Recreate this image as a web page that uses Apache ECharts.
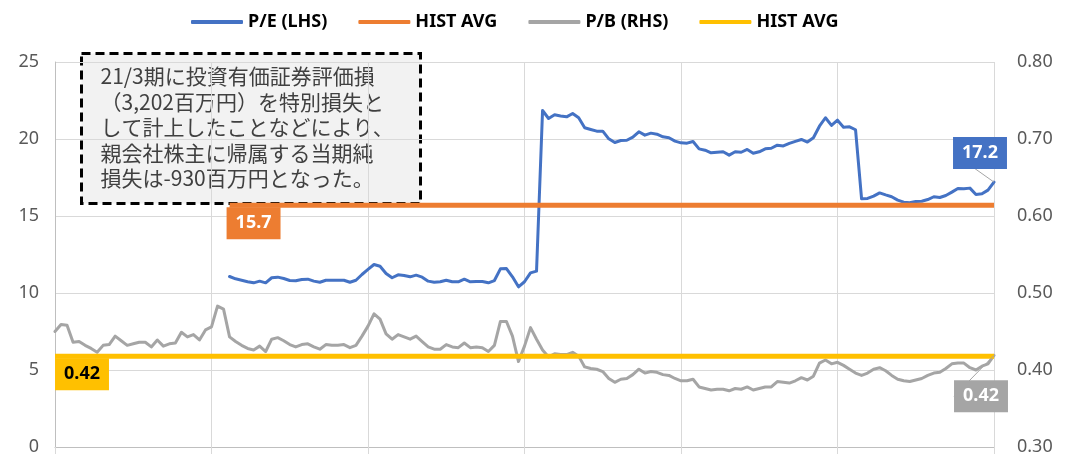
<!DOCTYPE html>
<html>
<head>
<meta charset="utf-8">
<script src="https://cdn.jsdelivr.net/npm/echarts@6/dist/echarts.min.js"></script>
<style>
  html, body { margin: 0; padding: 0; background: #fff; }
  #chart { width: 1069px; height: 466px; }
</style>
</head>
<body>
<div id="chart"></div>
<script>
// P/B (右軸) 隔週, 157点
var pbValues = [
  0.450, 0.459, 0.458, 0.436, 0.437, 0.432, 0.428, 0.423, 0.432, 0.433,
  0.444, 0.438, 0.432, 0.434, 0.436, 0.436, 0.430, 0.439, 0.431, 0.434,
  0.435, 0.449, 0.443, 0.446, 0.439, 0.452, 0.456, 0.483, 0.479, 0.443,
  0.437, 0.432, 0.428, 0.426, 0.431, 0.424, 0.440, 0.442, 0.438, 0.433,
  0.430, 0.433, 0.434, 0.430, 0.427, 0.433, 0.432, 0.432, 0.433, 0.429,
  0.432, 0.444, 0.457, 0.473, 0.466, 0.447, 0.440, 0.446, 0.443, 0.440,
  0.444, 0.437, 0.430, 0.427, 0.427, 0.433, 0.430, 0.429, 0.435, 0.429,
  0.430, 0.429, 0.424, 0.432, 0.463, 0.463, 0.444, 0.411, 0.431, 0.455,
  0.440, 0.426, 0.417, 0.421, 0.420, 0.420, 0.423, 0.418, 0.404, 0.402,
  0.401, 0.398, 0.389, 0.384, 0.388, 0.389, 0.394, 0.401, 0.396, 0.398,
  0.397, 0.394, 0.393, 0.389, 0.386, 0.386, 0.388, 0.378, 0.376, 0.374,
  0.375, 0.375, 0.373, 0.376, 0.375, 0.378, 0.374, 0.376, 0.378, 0.378,
  0.385, 0.384, 0.383, 0.386, 0.390, 0.387, 0.392, 0.409, 0.413, 0.408,
  0.410, 0.406, 0.401, 0.396, 0.393, 0.396, 0.401, 0.403, 0.399, 0.393,
  0.388, 0.386, 0.385, 0.387, 0.389, 0.393, 0.396, 0.397, 0.402, 0.408,
  0.409, 0.409, 0.403, 0.400, 0.405, 0.408, 0.419
];

// P/E (左軸) 先頭29点はデータなし
var peValues = [
  null, null, null, null, null, null, null, null, null, null,
  null, null, null, null, null, null, null, null, null, null,
  null, null, null, null, null, null, null, null, null, 11.07,
  10.92, 10.83, 10.73, 10.66, 10.77, 10.66, 10.99, 11.03, 10.94, 10.81,
  10.79, 10.88, 10.90, 10.77, 10.70, 10.83, 10.83, 10.83, 10.83, 10.70,
  10.83, 11.20, 11.53, 11.85, 11.74, 11.27, 10.99, 11.18, 11.14, 11.05,
  11.16, 11.03, 10.77, 10.70, 10.73, 10.83, 10.73, 10.73, 10.90, 10.73,
  10.75, 10.75, 10.66, 10.81, 11.57, 11.59, 11.05, 10.40, 10.73, 11.31,
  11.42, 21.85, 21.33, 21.57, 21.50, 21.44, 21.66, 21.38, 20.73, 20.62,
  20.51, 20.51, 20.01, 19.77, 19.90, 19.92, 20.12, 20.47, 20.25, 20.38,
  20.31, 20.14, 20.08, 19.86, 19.75, 19.73, 19.84, 19.36, 19.27, 19.10,
  19.14, 19.17, 18.95, 19.17, 19.14, 19.32, 19.08, 19.17, 19.36, 19.40,
  19.60, 19.55, 19.72, 19.85, 19.97, 19.80, 20.08, 20.83, 21.38, 20.88,
  21.22, 20.77, 20.79, 20.60, 16.12, 16.14, 16.29, 16.50, 16.37, 16.25,
  16.03, 15.90, 15.86, 15.94, 15.96, 16.07, 16.25, 16.20, 16.33, 16.55,
  16.79, 16.77, 16.81, 16.40, 16.44, 16.68, 17.2
];

var peAvg = 15.7;   // HIST AVG (P/E)
var pbAvg = 0.418;  // HIST AVG (P/B)

var leftTicks = { min: 0, max: 25, interval: 5 };
var rightTicks = { min: 0.3, max: 0.8, interval: 0.1 };
var perYear = 26;   // 縦グリッド間の点数

var noteLines = [
  '21/3期に投資有価証券評価損',
  '（3,202百万円）を特別損失と',
  'して計上したことなどにより、',
  '親会社株主に帰属する当期純',
  '損失は-930百万円となった。'
];

// カテゴリ (ラベルは非表示)
var categories = [];
for (var i = 0; i < pbValues.length; i++) categories.push(String(i + 1));

var lastIdx = pbValues.length - 1;
var firstPe = 0;
while (peValues[firstPe] == null) firstPe++;

var FONT = '"Noto Sans", sans-serif';

function boxLabel(bg, color, fmt) {
  return {
    show: true,
    formatter: fmt,
    backgroundColor: bg,
    color: color,
    fontFamily: FONT,
    fontWeight: 'bold',
    fontSize: 18,
    lineHeight: 20,
    padding: [6, 9]
  };
}

// P/E データ (最終点にラベル)
var peData = peValues.map(function (v, idx) {
  if (idx === lastIdx) {
    return {
      value: v,
      label: Object.assign(boxLabel('#4472C4', '#fff', function (p) { return p.value.toFixed(1); }), { position: 'top' }),
      labelLine: { show: true, lineStyle: { color: '#A5A5A5', width: 1 } }
    };
  }
  return v;
});

// P/B データ (最終点にラベル)
var pbData = pbValues.map(function (v, idx) {
  if (idx === lastIdx) {
    return {
      value: v,
      label: Object.assign(boxLabel('#A5A5A5', '#fff', function (p) { return p.value.toFixed(2); }), { position: 'bottom' }),
      labelLine: { show: true, lineStyle: { color: '#A5A5A5', width: 1 } }
    };
  }
  return v;
});

// 平均線
var peAvgData = peValues.map(function (v, idx) {
  if (v == null) return null;
  if (idx === firstPe) {
    return {
      value: peAvg,
      label: Object.assign(boxLabel('#ED7D31', '#fff', function (p) { return p.value.toFixed(1); }),
        { position: 'bottom', distance: 2, offset: [24, 0] })
    };
  }
  return peAvg;
});
var pbAvgData = pbValues.map(function (v, idx) {
  if (idx === 0) {
    return {
      value: pbAvg,
      label: Object.assign(boxLabel('#FFC000', '#000', function (p) { return p.value.toFixed(2); }),
        { position: 'bottom', distance: 2, offset: [27, 0] })
    };
  }
  return pbAvg;
});

function everyYear(idx) { return idx % perYear === 0; }

var chart = echarts.init(document.getElementById('chart'), null, { renderer: 'canvas' });

var lineBase = {
  type: 'line',
  symbol: 'circle',
  symbolSize: 0,
  showSymbol: true,
  showAllSymbol: true,
  connectNulls: false,
  silent: true,
  animation: false
};

var option = {
  animation: false,
  textStyle: { fontFamily: FONT },
  legend: {
    top: 8,
    left: 186,
    itemWidth: 52,
    itemHeight: 4,
    itemGap: 31,
    icon: 'roundRect',
    textStyle: { fontFamily: FONT, fontWeight: 'bold', fontSize: 18, color: '#000' },
    formatter: function (name) { return name.replace(/\s*#\d$/, ''); },
    data: ['P/E (LHS)', 'HIST AVG #1', 'P/B (RHS)', 'HIST AVG #2']
  },
  grid: { left: 55, right: 75, top: 62, bottom: 19 },
  xAxis: {
    type: 'category',
    data: categories,
    boundaryGap: false,
    axisLabel: { show: false },
    axisLine: { lineStyle: { color: '#BFBFBF', width: 1 } },
    axisTick: { show: true, interval: everyYear, length: 7, lineStyle: { color: '#D9D9D9' } },
    splitLine: { show: true, interval: everyYear, lineStyle: { color: '#D9D9D9', width: 1 } }
  },
  yAxis: [
    {
      type: 'value',
      min: leftTicks.min, max: leftTicks.max, interval: leftTicks.interval,
      axisLine: { show: true, lineStyle: { color: '#BFBFBF' } },
      axisTick: { show: false },
      axisLabel: { color: '#595959', fontSize: 18, fontFamily: FONT, margin: 16 },
      splitLine: { lineStyle: { color: '#D9D9D9', width: 1 } }
    },
    {
      type: 'value',
      min: rightTicks.min, max: rightTicks.max, interval: rightTicks.interval,
      axisLine: { show: false },
      axisTick: { show: false },
      axisLabel: {
        color: '#595959', fontSize: 18, fontFamily: FONT, margin: 23,
        formatter: function (v) { return v.toFixed(2); }
      },
      splitLine: { show: false }
    }
  ],
  series: [
    Object.assign({}, lineBase, {
      name: 'P/E (LHS)',
      yAxisIndex: 0,
      data: peData,
      color: '#4472C4',
      lineStyle: { color: '#4472C4', width: 3, cap: 'round', join: 'round' },
      labelLayout: { dx: -14, dy: -8 }
    }),
    Object.assign({}, lineBase, {
      name: 'HIST AVG #1',
      yAxisIndex: 0,
      data: peAvgData,
      color: '#ED7D31',
      lineStyle: { color: '#ED7D31', width: 5 }
    }),
    Object.assign({}, lineBase, {
      name: 'P/B (RHS)',
      yAxisIndex: 1,
      data: pbData,
      color: '#A5A5A5',
      lineStyle: { color: '#A5A5A5', width: 3, cap: 'round', join: 'round' },
      labelLayout: { dx: -13, dy: 20 }
    }),
    Object.assign({}, lineBase, {
      name: 'HIST AVG #2',
      yAxisIndex: 1,
      data: pbAvgData,
      color: '#FFC000',
      lineStyle: { color: '#FFC000', width: 5 }
    })
  ],
  graphic: [
    {
      type: 'group',
      left: 80,
      top: 52,
      children: [
        {
          type: 'rect',
          shape: { x: 0, y: 0, width: 339, height: 150 },
          style: { fill: '#F2F2F2', stroke: '#000', lineWidth: 3, lineDash: [9, 5] }
        },
        {
          type: 'text',
          x: 19,
          y: 10,
          style: {
            text: noteLines.join('\n'),
            font: '21px "Noto Sans CJK JP"',
            lineHeight: 25.5,
            fill: '#404040'
          }
        }
      ]
    }
  ]
};

chart.setOption(option);
</script>
</body>
</html>
